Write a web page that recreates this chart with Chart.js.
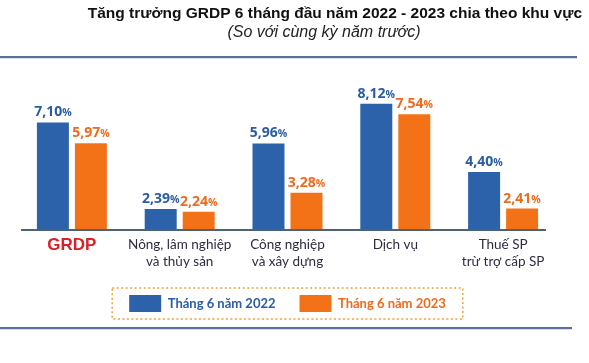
<!DOCTYPE html>
<html>
<head>
<meta charset="utf-8">
<script src="https://cdn.jsdelivr.net/npm/chart.js@4.4.0/dist/chart.umd.min.js"></script>
<style>
  body { margin: 0; background: #fff; }
  #wrap { width: 589px; height: 363px; }
</style>
</head>
<body>
<div id="wrap"><canvas id="grdpChart" width="589" height="363"></canvas></div>
<script>
// Danh mục khu vực và số liệu tăng trưởng (%)
var khuVuc = [['GRDP'], ['Nông, lâm nghiệp', 'và thủy sản'], ['Công nghiệp', 'và xây dựng'], ['Dịch vụ'], ['Thuế SP', 'trừ trợ cấp SP']];
var thang6_2022 = [7.10, 2.39, 5.96, 8.12, 4.40];
var thang6_2023 = [5.97, 2.24, 3.28, 7.54, 2.41];
var tenSeries = ['Tháng 6 năm 2022', 'Tháng 6 năm 2023'];

var tieuDe = 'Tăng trưởng GRDP 6 tháng đầu năm 2022 - 2023 chia theo khu vực';
var phuDe = '(So với cùng kỳ năm trước)';

var mauXanh = '#2b62aa';
var mauCam = '#f47217';
var chuXanh = '#2a5ca3';
var chuCam = '#ee6a1c';

// Plugin vẽ tiêu đề, đường kẻ, nhãn số liệu và khung legend
var trangTri = {
    id: 'trangTri',
    beforeDraw: function (chart) {
        var c = chart.ctx;
        c.save();
        c.fillStyle = '#111';
        c.textBaseline = 'middle';
        c.textAlign = 'right';
        c.font = 'bold 15.5px "Liberation Sans", Arial, sans-serif';
        c.fillText(tieuDe, 582, 14);
        c.textAlign = 'center';
        c.fillStyle = '#222';
        c.font = 'italic 16px "Liberation Sans", Arial, sans-serif';
        c.fillText(phuDe, 324, 33);

        // đường kẻ trên và dưới
        c.fillStyle = '#5b6e9c';
        c.fillRect(0, 56, 577, 2);
        c.fillRect(0, 327, 572, 2);
        c.fillStyle = '#d6deec';
        c.fillRect(0, 58, 577, 1);
        c.fillRect(0, 329, 572, 1);

        // đường trục đáy
        var day = chart.chartArea.bottom;
        c.fillStyle = '#4d6470';
        c.fillRect(21, day, 525, 2);
        c.restore();
    },
    afterDatasetsDraw: function (chart) {
        var c = chart.ctx;
        c.save();
        c.textBaseline = 'alphabetic';
        chart.data.datasets.forEach(function (ds, i) {
            var meta = chart.getDatasetMeta(i);
            meta.data.forEach(function (bar, j) {
                var so = ds.data[j].toFixed(2).replace('.', ',');
                c.font = 'bold 14px "Open Sans", sans-serif';
                var w1 = c.measureText(so).width;
                c.font = 'bold 10.5px "Open Sans", sans-serif';
                var w2 = c.measureText('%').width;
                var x0 = bar.x - (w1 + w2) / 2;
                var y0 = bar.y - 6;
                c.fillStyle = ds.labelColor;
                c.textAlign = 'left';
                c.font = 'bold 14px "Open Sans", sans-serif';
                c.fillText(so, x0, y0);
                c.font = 'bold 10.5px "Open Sans", sans-serif';
                c.fillText('%', x0 + w1, y0);
            });
        });

        // khung chấm bao quanh legend
        var hb = chart.legend.legendHitBoxes;
        if (hb && hb.length) {
            var l = hb[0].left - 17;
            var r = hb[hb.length - 1].left + hb[hb.length - 1].width + 17;
            var t = hb[0].top - 7;
            var b = hb[0].top + hb[0].height + 7;
            c.strokeStyle = '#e9a23b';
            c.lineWidth = 1.5;
            c.setLineDash([2, 2.5]);
            c.strokeRect(l, t, r - l, b - t);
        }
        c.restore();
    }
};

var ctx = document.getElementById('grdpChart').getContext('2d');

var grdpChart = new Chart(ctx, {
    type: 'bar',
    data: {
        labels: khuVuc,
        datasets: [{
            label: tenSeries[0],
            data: thang6_2022,
            backgroundColor: mauXanh,
            borderWidth: 0,
            labelColor: chuXanh,
            categoryPercentage: 0.705,
            barPercentage: 0.842
        }, {
            label: tenSeries[1],
            data: thang6_2023,
            backgroundColor: mauCam,
            borderWidth: 0,
            labelColor: chuCam,
            categoryPercentage: 0.705,
            barPercentage: 0.842
        }]
    },
    options: {
        responsive: false,
        animation: false,
        devicePixelRatio: 1,
        layout: { padding: { top: 60, left: 18, right: 32, bottom: 41 } },
        scales: {
            x: {
                grid: { display: false, drawTicks: false },
                border: { display: false },
                ticks: {
                    padding: 8,
                    maxRotation: 0,
                    autoSkip: false,
                    color: function (c) { return c.index === 0 ? '#d9202a' : '#2d2d40'; },
                    font: function (c) {
                        if (c.index === 0) return { family: '"Liberation Sans", Arial, sans-serif', size: 17, weight: 'bold', lineHeight: 1.0 };
                        return { family: 'Lato, sans-serif', size: 13.5, lineHeight: 1.2 };
                    }
                },
                afterFit: function (s) { s.height = 42; }
            },
            y: {
                display: false,
                min: 1.3,
                max: 10.5
            }
        },
        plugins: {
            tooltip: { enabled: false },
            legend: {
                position: 'bottom',
                labels: {
                    boxWidth: 32,
                    boxHeight: 17,
                    padding: 24,
                    font: { family: 'Lato, sans-serif', size: 13, weight: 'bold' },
                    generateLabels: function (chart) {
                        var items = Chart.defaults.plugins.legend.labels.generateLabels(chart);
                        items.forEach(function (it, i) {
                            it.fontColor = chart.data.datasets[i].labelColor;
                            it.lineWidth = 0;
                        });
                        return items;
                    }
                }
            }
        }
    },
    plugins: [trangTri]
});
</script>
</body>
</html>
